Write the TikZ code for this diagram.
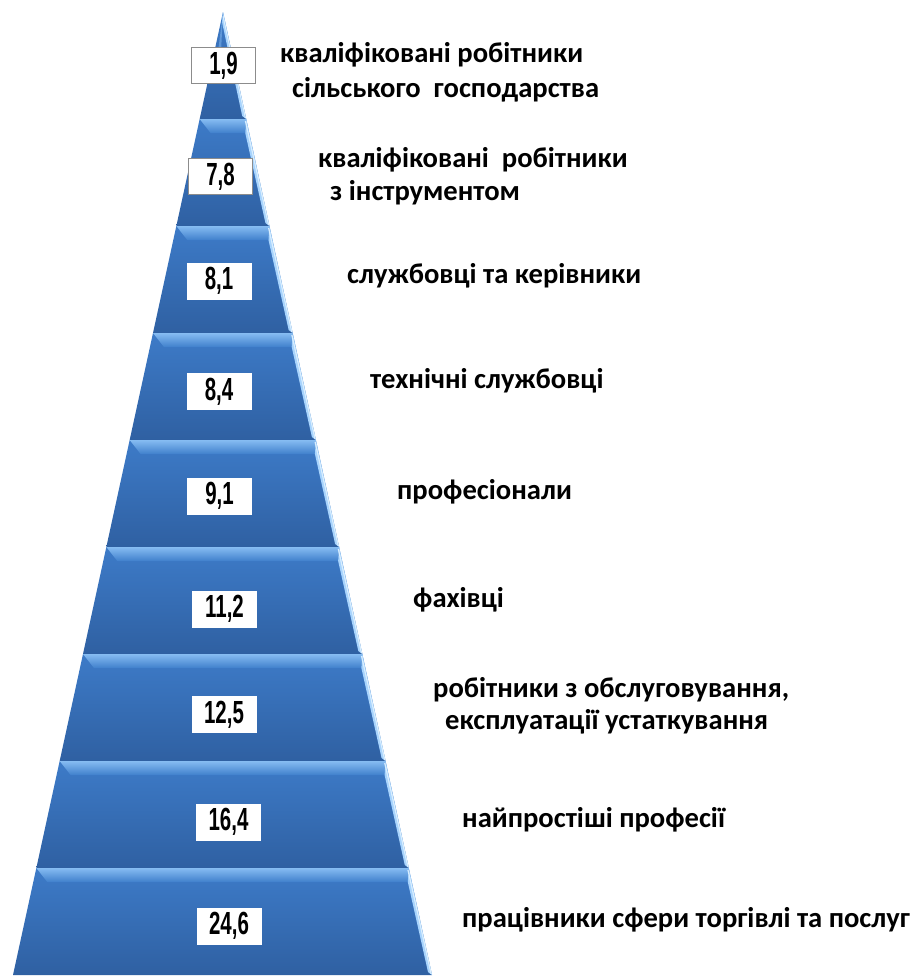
\documentclass[tikz,border=0pt]{standalone}
\usepackage{fontspec}
\setmainfont{Carlito}
\newfontfamily\numfont[FakeStretch=0.64]{Liberation Sans}
\definecolor{bandtop}{HTML}{3D7BC8}
\definecolor{bandbot}{HTML}{2F60A2}
\definecolor{hiA}{HTML}{86BCF2}
\definecolor{hiB}{HTML}{C0E2FF}
\definecolor{hiC}{HTML}{4080CC}
\definecolor{edgeR}{HTML}{A8D4FD}
\definecolor{edgeW}{HTML}{D8EEFF}
\definecolor{boxgray}{HTML}{8C8C8C}
\tikzset{
  numbox/.style={fill=white, draw=white, inner sep=0pt, minimum width=64pt, minimum height=36pt,
    font=\numfont\bfseries\fontsize{32}{32}\selectfont},
  numboxg/.style={numbox, draw=boxgray, line width=1pt},
  lbl/.style={anchor=west, inner sep=0pt, font=\bfseries\fontsize{28.6}{28.6}\selectfont, text=black}
}
\begin{document}
\begin{tikzpicture}[x=1pt,y=-1pt]
\useasboundingbox (0,0) rectangle (922,978);
% pyramid bands
\foreach \i in {0,...,8} {
  \pgfmathsetmacro\yt{12+107*\i}
  \pgfmathsetmacro\yb{12+107*(\i+1)}
  \pgfmathsetmacro\xlt{223-(\yt-12)/963*210}
  \pgfmathsetmacro\xrt{223+(\yt-12)/963*209}
  \pgfmathsetmacro\xlb{223-(\yb-12)/963*210}
  \pgfmathsetmacro\xrb{223+(\yb-12)/963*209}
  \pgfmathsetmacro\ym{\yt+14}
  \pgfmathsetmacro\xlm{223-(\ym-12)/963*210+14}
  \pgfmathsetmacro\xrm{223+(\ym-12)/963*209-4}
  \shade[top color=bandtop, bottom color=bandbot]
    (\xlt,\yt) -- (\xrt,\yt) -- (\xrb,\yb) -- (\xlb,\yb) -- cycle;
  \ifnum\i>0
    \shade[top color=hiA, middle color=hiB, bottom color=hiC]
      (\xlt,\yt) -- (\xrt,\yt) -- (\xrm,\ym) -- (\xlm,\ym) -- cycle;
    \fill[edgeR] (\xrt,\yt) -- (\xrb,\yb) -- (\xrb-4,\yb-3) -- (\xrm,\ym) -- cycle;
    \draw[edgeW, line width=1.2pt] (\xrt-0.8,\yt+2) -- (\xrb-0.8,\yb-1);
  \else
    \fill[edgeR] (\xrt,\yt) -- (\xrb,\yb) -- (\xrb-4,\yb-3) -- (\xrt-1,\yt+10) -- cycle;
    \draw[edgeW, line width=1pt] (\xrt,\yt+4) -- (\xrb-0.8,\yb-1);
    \fill[hiA, opacity=0.5] (\xlt,\yt) -- (\xlt-5,\yt+40) -- (\xlt-2,\yt+40) -- cycle;
  \fi
}
% numbers
\node[numboxg] (n1) at (223.5,65.5) {1,9};
\node[numboxg] (n2) at (220.5,176.5) {7,8};
\node[numbox] (n3) at (219,281) {8,1};
\node[numbox] (n4) at (219,391.5) {8,4};
\node[numbox] (n5) at (219.5,496) {9,1};
\node[numbox] (n6) at (224.5,609) {11,2};
\node[numbox] (n7) at (224,714.5) {12,5};
\node[numbox] (n8) at (228.5,822) {16,4};
\node[numbox] (n9) at (229,926) {24,6};
% labels
\node[lbl] (l1a) at (280,55) {кваліфіковані робітники};
\node[lbl] (l1b) at (292,90) {сільського\ \ господарства};
\node[lbl] (l2a) at (318,160) {кваліфіковані\ \ робітники};
\node[lbl] (l2b) at (330,193) {з інструментом};
\node[lbl] (l3) at (347,276) {службовці та керівники};
\node[lbl] (l4) at (370,381) {технічні службовці};
\node[lbl] (l5) at (397,492) {професіонали};
\node[lbl] (l6) at (413,600) {фахівці};
\node[lbl] (l7a) at (433,690) {робітники з обслуговування,};
\node[lbl] (l7b) at (445,722) {експлуатації устаткування};
\node[lbl] (l8) at (462,820) {найпростіші професії};
\node[lbl] (l9) at (462,920) {працівники сфери торгівлі та послуг};
\end{tikzpicture}
\end{document}
